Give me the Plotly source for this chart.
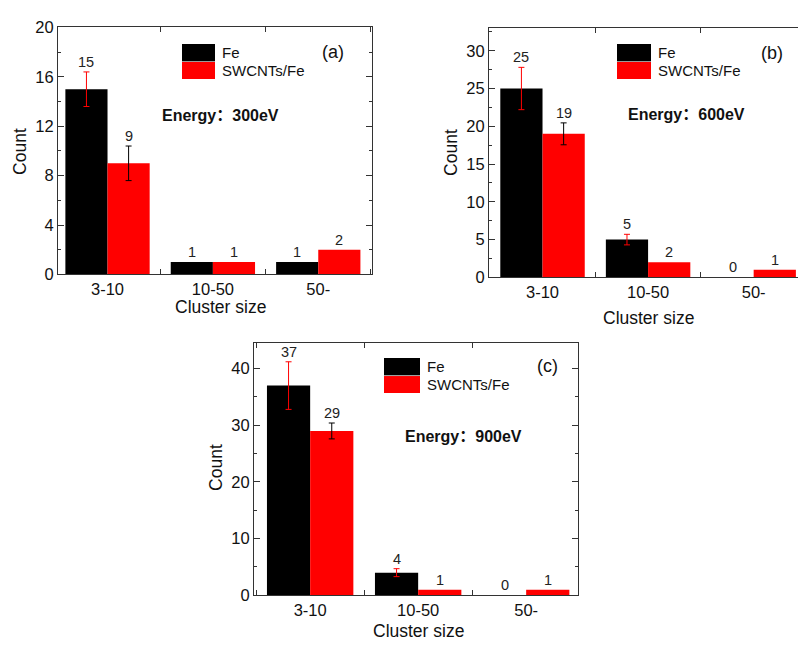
import plotly.graph_objects as go

W, H = 798, 651

categories = ["3-10", "10-50", "50-"]
series_names = ["Fe", "SWCNTs/Fe"]

fe_a = [15, 1, 1]
sw_a = [9, 1, 2]
fe_err_a = [1.4]
sw_err_a = [1.4]

fe_b = [25, 5, 0]
sw_b = [19, 2, 1]
fe_err_b = [2.8, 0.7]
sw_err_b = [1.45]

fe_c = [37, 4, 0]
sw_c = [29, 1, 1]
fe_err_c = [4.2, 0.7]
sw_err_c = [1.4]

energies = ["Energy：300eV", "Energy：600eV", "Energy：900eV"]
panel_tags = ["(a)", "(b)", "(c)"]
x_title = "Cluster size"
y_title = "Count"

FONT = "Liberation Sans, Arial, sans-serif"
EFONT = "Liberation Sans, 'Noto Sans CJK SC', sans-serif"
FRAME = "#333333"
TXT = "#111111"


def px_x(x):
    return x / W


def px_y(y):
    return 1 - y / H


panels = [
    dict(fe=fe_a, sw=sw_a, fe_err=fe_err_a, sw_err=sw_err_a,
         box=(58, 19, 372, 273), yr=[0, 20], dtick=4, minor=2, xr=[-0.47, 2.51], right=True,
         leg=(182, 36, 215), tag=(333, 44), energy=(220, 110),
         ytl=(20, 147), xtl=(220, 306)),
    dict(fe=fe_b, sw=sw_b, fe_err=fe_err_b, sw_err=sw_err_b,
         box=(489, 20, 798, 276), yr=[0, 32.95], dtick=5, minor=2.5, xr=[-0.507, 2.42], right=False,
         leg=(617, 36, 651), tag=(772, 45), energy=(686, 108),
         ytl=(451, 148), xtl=(648, 318)),
    dict(fe=fe_c, sw=sw_c, fe_err=fe_err_c, sw_err=sw_err_c,
         box=(254, 343, 578, 603), yr=[0, 44.6], dtick=10, minor=5, xr=[-0.52, 2.48], right=True,
         leg=(384, 359, 420), tag=(547, 367), energy=(463, 440),
         ytl=(216, 472), xtl=(418, 640)),
]

fig = go.Figure()
annotations = []
shapes = []

for i, p in enumerate(panels):
    sfx = "" if i == 0 else str(i + 1)
    xa, ya = "x" + sfx, "y" + sfx
    fig.add_trace(go.Bar(
        x=categories, y=p["fe"], name=series_names[0], xaxis=xa, yaxis=ya,
        marker=dict(color="black", line=dict(width=0)), width=0.4, offset=-0.4,
        error_y=dict(type="data", array=p["fe_err"], color="red", thickness=1, width=3),
        showlegend=False))
    fig.add_trace(go.Bar(
        x=categories, y=p["sw"], name=series_names[1], xaxis=xa, yaxis=ya,
        marker=dict(color="#ff0000", line=dict(width=0)), width=0.4, offset=0.0,
        error_y=dict(type="data", array=p["sw_err"], color="black", thickness=1, width=3),
        showlegend=False))

    # value labels
    for vals, errs, shift in ((p["fe"], p["fe_err"], -0.2), (p["sw"], p["sw_err"], 0.2)):
        for k, v in enumerate(vals):
            e = errs[k] if k < len(errs) else 0
            annotations.append(dict(
                x=k + shift, y=v + e, xref=xa, yref=ya, text=str(v), showarrow=False,
                yanchor="bottom", xanchor="center", yshift=0,
                font=dict(family=FONT, size=14.5, color="#222222")))

    x0, y0, x1, y1 = p["box"]
    axfont = dict(family=FONT, size=16.5, color=TXT)
    fig.layout["xaxis" + sfx] = dict(
        domain=[px_x(x0), px_x(x1)], anchor=ya, type="category", range=p["xr"],
        showline=True, linecolor=FRAME, linewidth=1, mirror="ticks",
        ticks="inside", tickson="boundaries", ticklen=5, tickcolor=FRAME,
        tickfont=axfont, showgrid=False, zeroline=False, fixedrange=True)
    fig.layout["yaxis" + sfx] = dict(
        domain=[px_y(y1), px_y(y0)], anchor=xa, range=p["yr"], dtick=p["dtick"], tick0=0,
        showline=True, linecolor=FRAME, linewidth=1, mirror="ticks" if p["right"] else False,
        ticks="inside", ticklen=6, tickcolor=FRAME, tickfont=axfont,
        minor=dict(ticks="inside", ticklen=3, dtick=p["minor"], tick0=0, tickcolor=FRAME, showgrid=False),
        showgrid=False, zeroline=False, fixedrange=True)

    # custom legend
    lx0, ly0, lx1 = p["leg"]
    sw_h = 17.5
    shapes.append(dict(type="rect", xref="paper", yref="paper",
                       x0=px_x(lx0), x1=px_x(lx1), y0=px_y(ly0 + sw_h), y1=px_y(ly0),
                       fillcolor="black", line=dict(width=0)))
    shapes.append(dict(type="rect", xref="paper", yref="paper",
                       x0=px_x(lx0), x1=px_x(lx1), y0=px_y(ly0 + 2 * sw_h + 1), y1=px_y(ly0 + sw_h + 1),
                       fillcolor="#ff0000", line=dict(width=0)))
    shapes.append(dict(type="line", xref="paper", yref="paper",
                       x0=px_x(lx0), x1=px_x(lx1), y0=px_y(ly0 + sw_h + 0.5), y1=px_y(ly0 + sw_h + 0.5),
                       line=dict(color="#9a9a9a", width=1)))
    for j, nm in enumerate(series_names):
        annotations.append(dict(
            x=px_x(lx1 + 5), y=px_y(ly0 + sw_h / 2 + j * (sw_h + 1)), xref="paper", yref="paper",
            text=nm, showarrow=False, xanchor="left", yanchor="middle",
            font=dict(family=FONT, size=15, color=TXT)))

    annotations.append(dict(
        x=px_x(p["tag"][0]), y=px_y(p["tag"][1]), xref="paper", yref="paper",
        text=panel_tags[i], showarrow=False, xanchor="center", yanchor="middle",
        font=dict(family=FONT, size=18, color=TXT)))
    annotations.append(dict(
        x=px_x(p["energy"][0]), y=px_y(p["energy"][1]), xref="paper", yref="paper",
        text="<b>" + energies[i] + "</b>", showarrow=False, xanchor="center", yanchor="middle",
        font=dict(family=EFONT, size=16, color=TXT)))
    annotations.append(dict(
        x=px_x(p["ytl"][0]), y=px_y(p["ytl"][1]), xref="paper", yref="paper",
        text=y_title, showarrow=False, xanchor="center", yanchor="middle", textangle=-90,
        font=dict(family=FONT, size=17.5, color=TXT)))
    annotations.append(dict(
        x=px_x(p["xtl"][0]), y=px_y(p["xtl"][1]), xref="paper", yref="paper",
        text=x_title, showarrow=False, xanchor="center", yanchor="middle",
        font=dict(family=FONT, size=17.5, color=TXT)))

fig.update_layout(
    width=W, height=H, margin=dict(l=0, r=0, t=0, b=0),
    paper_bgcolor="white", plot_bgcolor="white",
    barmode="overlay", showlegend=False,
    annotations=annotations, shapes=shapes,
    font=dict(family=FONT, color=TXT),
)

fig.write_html("out.html")
